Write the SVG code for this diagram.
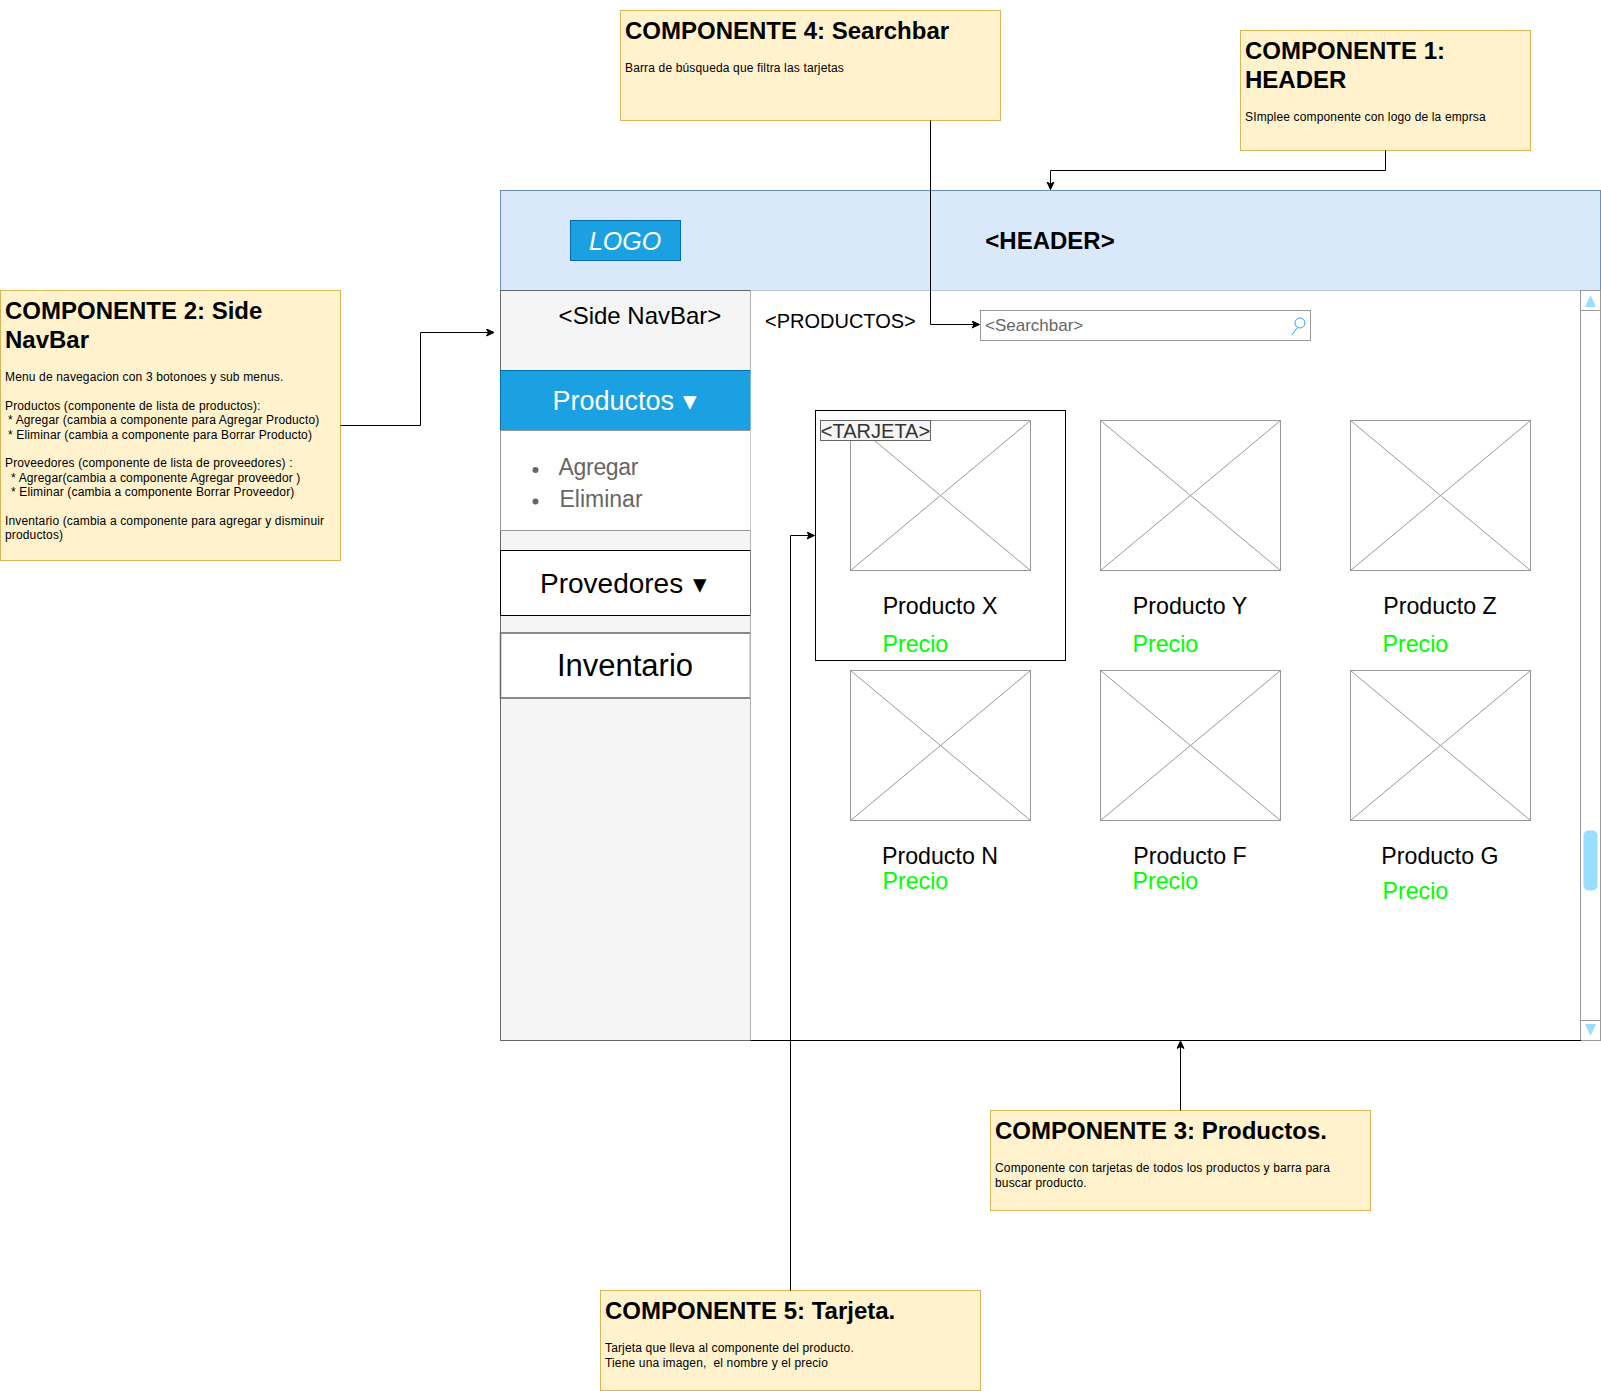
<svg xmlns="http://www.w3.org/2000/svg" width="1601" height="1391" viewBox="0 0 1601 1391">
<style>
text{font-family:"Liberation Sans",Arial,sans-serif;fill:#000}
.note{fill:#fff2cc;stroke:#d6b656}
.h{font-size:24px;font-weight:bold}
.b{font-size:12px;letter-spacing:.15px;white-space:pre}
.img{fill:#fff;stroke:#999}
.c{fill:none;stroke:#000}
.n{font-size:23.2px;text-anchor:middle}
.p{font-size:23.2px;fill:#00ff00}
.s{fill:none;stroke:#999}
</style>
<defs><marker id="a" markerUnits="userSpaceOnUse" markerWidth="10" markerHeight="10" refX="8" refY="4" orient="auto"><path d="M0.5 0.5L8 4L0.5 7.5L2.5 4Z" fill="#000" stroke="#000"/></marker>
<g id="x"><rect class="img" width="180" height="150"/><path class="s" d="M0 150L180 0M0 0L180 150"/></g></defs>

<g id="header"><rect x="500.500" y="190.500" width="1100" height="100" fill="#dae8fc" stroke="#6c8ebf"/><text x="1050" y="249" font-size="24" font-weight="bold" text-anchor="middle">&lt;HEADER&gt;</text></g>
<g id="logo"><rect x="570.500" y="220.500" width="110" height="40" fill="#1ba1e2" stroke="#006eaf"/><text x="625" y="250" font-size="25" font-style="italic" text-anchor="middle" style="fill:#fff">LOGO</text></g>

<g id="sidenav"><rect x="500.500" y="290.500" width="250" height="750" fill="#f5f5f5" stroke="#666"/><text x="640" y="324" font-size="24" text-anchor="middle">&lt;Side NavBar&gt;</text></g>
<g id="btn-productos"><rect x="500.500" y="370.500" width="250" height="60" fill="#1ba1e2" stroke="#006eaf"/><text x="552.500" y="410" font-size="27" style="fill:#fff">Productos</text><text x="683" y="410" font-size="27" style="fill:#fff">▾</text></g>
<g id="submenu"><rect x="500.500" y="430.500" width="250" height="100" fill="#fff" stroke="#999"/><circle cx="535.500" cy="470" r="3" fill="#666"/><circle cx="535.500" cy="501.500" r="3" fill="#666"/><text x="558.500" y="475" font-size="23" textLength="80" style="fill:#666">Agregar</text><text x="559.500" y="507" font-size="23" style="fill:#666">Eliminar</text></g>
<g id="btn-provedores"><rect x="500.500" y="550.500" width="250" height="65" fill="#fff" stroke="#000"/><text x="540" y="593" font-size="28">Provedores</text><text x="693" y="593" font-size="27">▾</text></g>
<g id="btn-inventario"><rect x="500.500" y="633" width="250" height="65" fill="#fff" stroke="#666" stroke-width="1.500"/><text x="625" y="676" font-size="31" text-anchor="middle">Inventario</text></g>

<g id="productos"><rect x="750.500" y="290.500" width="830" height="750" fill="#fff" stroke="none"/><text x="765" y="328" font-size="20">&lt;PRODUCTOS&gt;</text></g>
<g id="scrollbar"><rect x="1580.500" y="290.500" width="20" height="750" fill="#fff" stroke="#999"/><path class="s" d="M1580.500 310.500H1600.500M1580.500 1020.500H1600.500"/><path d="M1590.500 295L1596 307H1585Z M1590.500 1036L1596 1024H1585Z" fill="#99ddff"/><rect x="1583.500" y="830.500" width="14" height="60" rx="5" fill="#99ddff"/></g>
<g id="searchbar"><rect x="980.500" y="310.500" width="330" height="30" fill="#fff" stroke="#999"/><text x="985" y="331" font-size="17" style="fill:#666">&lt;Searchbar&gt;</text><circle cx="1300" cy="323" r="5" fill="none" stroke="#29a3ff"/><path d="M1297 328L1292 335" stroke="#29a3ff" fill="none"/></g>

<g id="card-x"><rect x="815.500" y="410.500" width="250" height="250" fill="#fff" stroke="#000"/><use href="#x" x="850.500" y="420.500"/><rect x="820.500" y="420.500" width="110" height="20" fill="#f5f5f5" stroke="#666"/><text x="875.500" y="438" font-size="20" text-anchor="middle" style="fill:#333">&lt;TARJETA&gt;</text><text class="n" x="940" y="614">Producto X</text><text class="p" x="882.500" y="652">Precio</text></g>
<g id="card-y"><use href="#x" x="1100.500" y="420.500"/><text class="n" x="1190" y="614">Producto Y</text><text class="p" x="1132.500" y="652">Precio</text></g>
<g id="card-z"><use href="#x" x="1350.500" y="420.500"/><text class="n" x="1440" y="614">Producto Z</text><text class="p" x="1382.500" y="652">Precio</text></g>
<g id="card-n"><use href="#x" x="850.500" y="670.500"/><text class="n" x="940" y="864">Producto N</text><text class="p" x="882.500" y="889">Precio</text></g>
<g id="card-f"><use href="#x" x="1100.500" y="670.500"/><text class="n" x="1190" y="864">Producto F</text><text class="p" x="1132.500" y="889">Precio</text></g>
<g id="card-g"><use href="#x" x="1350.500" y="670.500"/><text class="n" x="1440" y="864">Producto G</text><text class="p" x="1382.500" y="899">Precio</text></g>

<g id="note-4"><rect class="note" x="620.500" y="10.500" width="380" height="110"/><text class="h" x="625" y="39">COMPONENTE 4: Searchbar</text><text class="b" x="625" y="72">Barra de búsqueda que filtra las tarjetas</text></g>
<g id="note-1"><rect class="note" x="1240.500" y="30.500" width="290" height="120"/><text class="h" x="1245" y="59">COMPONENTE 1:</text><text class="h" x="1245" y="88">HEADER</text><text class="b" x="1245" y="121">SImplee componente con logo de la emprsa</text></g>
<g id="note-2"><rect class="note" x="0.500" y="290.500" width="340" height="270"/><text class="h" x="5" y="319">COMPONENTE 2: Side</text><text class="h" x="5" y="348">NavBar</text>
<g><text class="b" x="5" y="381">Menu de navegacion con 3 botonoes y sub menus.</text><text class="b" x="5" y="410">Productos (componente de lista de productos):</text><text class="b" x="8" y="424">* Agregar (cambia a componente para Agregar Producto)</text><text class="b" x="8" y="439">* Eliminar (cambia a componente para Borrar Producto)</text><text class="b" x="5" y="467">Proveedores (componente de lista de proveedores) :</text><text class="b" x="11" y="482">* Agregar(cambia a componente Agregar proveedor )</text><text class="b" x="11" y="496">* Eliminar (cambia a componente Borrar Proveedor)</text><text class="b" x="5" y="525">Inventario (cambia a componente para agregar y disminuir</text><text class="b" x="5" y="539">productos)</text></g></g>
<g id="note-3"><rect class="note" x="990.500" y="1110.500" width="380" height="100"/><text class="h" x="995" y="1139">COMPONENTE 3: Productos.</text><text class="b" x="995" y="1172">Componente con tarjetas de todos los productos y barra para</text><text class="b" x="995" y="1187">buscar producto.</text></g>
<g id="note-5"><rect class="note" x="600.500" y="1290.500" width="380" height="100"/><text class="h" x="605" y="1319">COMPONENTE 5: Tarjeta.</text><text class="b" x="605" y="1352">Tarjeta que lleva al componente del producto.</text><text class="b" x="605" y="1367">Tiene una imagen,  el nombre y el precio</text></g>

<g id="connectors">
<path class="c" d="M750.500 1040.500H1581"/>
<path class="c" d="M930.500 120.500V324.500H979.500" marker-end="url(#a)"/>
<path class="c" d="M1385.500 150.500V170.500H1050.500V189.500" marker-end="url(#a)"/>
<path class="c" d="M340.500 425.500H420.500V332.500H494" marker-end="url(#a)"/>
<path class="c" d="M1180.500 1110.500V1041" marker-end="url(#a)"/>
<path class="c" d="M790.500 1290.500V535.500H814.500" marker-end="url(#a)"/>
</g>
</svg>
